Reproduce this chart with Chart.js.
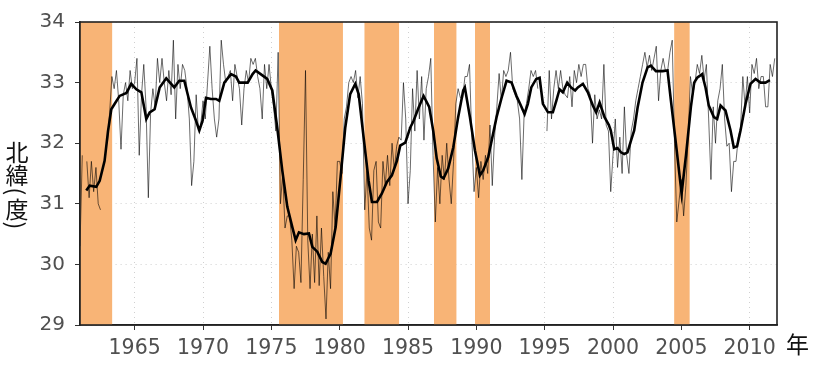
<!DOCTYPE html>
<html><head><meta charset="utf-8">
<script src="https://cdn.jsdelivr.net/npm/chart.js@4"></script>
<style>
html,body{margin:0;padding:0;background:#fff;}
#wrap{position:relative;width:830px;height:370px;}
#c{position:absolute;left:0;top:0;}
#ytitle{position:absolute;left:4px;top:140px;width:26px;font-family:"Noto Sans CJK JP";font-size:23px;color:#111;line-height:1;display:flex;flex-direction:column;align-items:center;}
#ytitle span{display:block;height:23px;line-height:23px;text-align:center;}
#ytitle span.p{height:11px;line-height:11px;transform:rotate(90deg);}
#xtitle{position:absolute;left:786px;top:332px;font-family:"Noto Sans CJK JP";font-size:23px;color:#111;line-height:1;}
</style></head>
<body><div id="wrap"><canvas id="c" width="830" height="370"></canvas>
<div id="ytitle"><span>北</span><span>緯</span><span class="p">(</span><span>度</span><span class="p">)</span></div><div id="xtitle">年</div></div>
<script>
const xTickValues = [1965,1970,1975,1980,1985,1990,1995,2000,2005,2010];
const yTickValues = [29,30,31,32,33,34];
const bandStarts = [1961.0, 1975.56, 1981.8, 1986.9, 1989.9, 2004.47];
const bandEnds   = [1963.37, 1980.24, 1984.36, 1988.56, 1991.0, 2005.62];

// thin line: every 2 months from 1961.0
const thinStart = 1961.0, thinStep = 1/6;
const thinValues = [
30.3,31.8,null,31.7,31.1,31.7,
31.2,31.6,31.0,30.9,null,null,
32.0,32.5,33.1,32.9,33.2,32.7,
31.9,32.8,33.0,32.7,33.2,32.9,
33.0,33.4,31.8,32.8,33.3,32.6,
31.1,32.5,32.9,32.6,33.4,33.0,
33.4,33.0,32.7,33.2,32.8,33.7,
32.4,33.3,32.9,33.3,33.2,32.9,
32.4,31.3,31.7,32.8,32.2,32.3,
32.7,32.4,33.0,33.6,32.9,32.4,
32.1,32.4,33.7,33.3,33.0,33.1,
33.2,32.7,33.3,33.1,32.9,32.3,
32.9,33.2,33.0,33.4,33.3,33.4,
33.1,32.9,32.4,33.3,32.9,33.3,
32.9,32.6,32.2,33.5,31.0,31.5,
30.6,30.8,30.8,30.4,29.6,30.3,
30.2,29.7,31.4,33.2,30.4,29.6,
30.5,29.7,30.8,29.65,30.6,29.8,
29.1,30.2,29.6,31.2,30.6,31.7,
31.7,31.5,32.4,32.6,33.0,33.1,
33.0,33.2,32.75,33.1,32.65,30.9,
31.55,30.6,30.4,31.55,31.7,30.7,
30.6,31.7,31.3,31.8,31.3,32.0,
31.55,31.95,32.1,32.05,33.0,32.4,
31.0,31.55,32.9,32.2,33.2,32.4,
33.1,32.05,32.9,33.1,33.4,31.8,
30.7,31.6,31.0,31.8,31.4,32.0,
31.4,31.0,31.7,32.65,32.9,32.75,
32.75,33.1,33.1,33.3,32.1,31.2,
31.6,31.1,31.7,31.4,31.8,31.5,
32.3,31.3,32.1,32.6,33.15,32.7,
33.2,33.1,33.2,33.5,32.9,32.8,
32.7,32.4,31.4,32.5,32.65,32.9,
33.2,33.1,33.2,32.9,null,null,
null,32.2,33.2,32.4,32.9,33.2,
32.9,33.2,32.9,32.8,32.75,33.1,
32.6,33.2,33.0,33.3,33.1,33.3,
33.3,32.9,32.8,32.0,32.8,32.4,
32.55,32.4,33.3,32.3,32.2,31.2,
31.8,32.4,31.6,32.1,31.5,32.6,
31.8,31.5,32.2,32.4,32.7,32.9,
33.1,33.3,33.5,33.25,33.45,33.2,
33.4,33.6,32.7,33.2,33.4,33.2,
33.2,33.5,33.7,32.0,30.7,31.05,
31.4,30.8,31.3,32.1,33.1,32.8,
33.0,33.3,33.15,33.45,33.05,33.3,
32.4,31.4,32.6,32.0,32.7,32.9,
33.3,32.4,31.95,32.0,31.2,31.7,
31.7,32.1,32.25,33.1,32.6,33.1,
32.5,33.3,33.15,33.4,32.9,33.1,
33.1,32.6,32.6,33.3,33.1,33.4
];

// smoothed line
const smoothYears = [
1961.46,1961.71,1962.19,1962.44,1962.8,1963.05,1963.29,1963.54,1963.9,1964.4,1964.75,1965.12,1965.49,1965.85,1966.1,1966.46,1966.83,1967.31,1967.9,1968.26,1968.63,1969.12,1969.49,1969.73,1969.97,1970.22,1970.58,1970.95,1971.19,1971.56,1972.05,1972.41,1972.65,1973.27,1973.63,1973.85,1974.22,1974.7,1975.07,1975.43,1975.8,1976.17,1976.53,1976.78,1977.02,1977.39,1977.75,1978.0,1978.36,1978.73,1978.97,1979.34,1979.71,1980.07,1980.41,1980.77,1981.14,1981.39,1981.75,1982.12,1982.36,1982.73,1983.09,1983.46,1983.82,1984.19,1984.43,1984.8,1985.17,1985.41,1985.78,1986.14,1986.55,1986.85,1987.1,1987.4,1987.6,1987.94,1988.31,1988.67,1989.04,1989.16,1989.53,1989.9,1990.26,1990.5,1990.87,1991.12,1991.48,1991.85,1992.21,1992.58,1992.94,1993.2,1993.53,1993.77,1994.02,1994.38,1994.63,1994.87,1995.24,1995.6,1995.85,1996.09,1996.33,1996.65,1996.94,1997.23,1997.43,1997.8,1998.16,1998.53,1998.77,1999.02,1999.38,1999.7,1999.84,2000.09,2000.33,2000.58,2000.82,2001.06,2001.31,2001.55,2001.8,2002.16,2002.53,2002.77,2003.14,2003.63,2003.99,2004.24,2004.6,2005.02,2005.34,2005.7,2005.94,2006.16,2006.52,2006.77,2007.01,2007.38,2007.62,2007.87,2008.23,2008.6,2008.84,2009.08,2009.33,2009.7,2010.06,2010.43,2010.79,2011.16,2011.48
];
const smoothValues = [
31.22,31.30,31.28,31.38,31.71,32.2,32.56,32.65,32.78,32.83,32.98,32.89,32.84,32.40,32.51,32.56,32.92,33.07,32.92,33.03,33.03,32.59,32.37,32.21,32.37,32.75,32.73,32.73,32.70,33.0,33.14,33.1,33.0,33.0,33.14,33.2,33.14,33.06,32.87,32.26,31.55,30.95,30.62,30.40,30.53,30.5,30.51,30.29,30.21,30.04,30.01,30.18,30.62,31.45,32.26,32.81,32.98,32.81,32.10,31.38,31.03,31.03,31.17,31.36,31.47,31.71,31.96,32.01,32.26,32.37,32.59,32.78,32.6,32.2,31.75,31.45,31.42,31.58,31.93,32.43,32.87,32.92,32.43,31.88,31.47,31.55,31.77,32.04,32.43,32.75,33.03,33.0,32.78,32.65,32.48,32.65,32.92,33.06,33.08,32.65,32.51,32.51,32.70,32.89,32.84,33.0,32.92,32.87,32.92,32.98,32.84,32.62,32.51,32.67,32.43,32.3,32.21,31.90,31.92,31.85,31.82,31.85,32.04,32.21,32.59,33.0,33.25,33.28,33.19,33.19,33.2,32.7,32.0,31.17,31.8,32.6,33.0,33.08,33.14,32.92,32.62,32.43,32.4,32.62,32.54,32.21,31.93,31.95,32.21,32.65,32.98,33.06,33.0,33.0,33.04
];

const bandColor = 'rgb(248,180,118)';
const datasets = [];
datasets.push({
  label:'smooth', data: smoothYears.map((x,i)=>({x, y: smoothValues[i]})),
  borderColor:'#000', borderWidth:2.6, pointRadius:0, fill:false, order:0, tension:0
});
datasets.push({
  label:'monthly', data: thinValues.map((v,i)=>({x: thinStart + i*thinStep, y: v})),
  borderColor:'rgba(0,0,0,0.58)', borderWidth:1, pointRadius:0, fill:false, spanGaps:false, order:1, tension:0
});
bandStarts.forEach((s,i)=>{
  datasets.push({
    label:'band'+i, data:[{x:s,y:34},{x:bandEnds[i],y:34}],
    borderWidth:0, borderColor:'rgba(0,0,0,0)', backgroundColor:bandColor,
    pointRadius:0, fill:'start', order:2
  });
});

const frame = {
  id:'frame',
  afterDraw(chart){
    const {ctx, chartArea:a} = chart;
    ctx.save();
    ctx.strokeStyle='#222'; ctx.lineWidth=1.6;
    ctx.strokeRect(a.left, a.top, a.right-a.left, a.bottom-a.top);
    ctx.restore();
  }
};

new Chart(document.getElementById('c'), {
  type:'line',
  data:{datasets},
  options:{
    responsive:false, animation:false, devicePixelRatio:1,
    layout:{padding:{left:0, right:53, top:21, bottom:0}},
    plugins:{legend:{display:false}, tooltip:{enabled:false}},
    scales:{
      x:{
        type:'linear', min:1961, max:2012,
        afterBuildTicks(s){ s.ticks = xTickValues.map(v=>({value:v})); },
        afterFit(s){ s.height = 45; },
        grid:{color:'#d0d0d0', lineWidth:1, tickColor:'#333', tickLength:5, drawTicks:true},
        border:{display:true, color:'#222', width:1.6, dash:[1,4]},
        ticks:{color:'#505050', font:{family:'DejaVu Sans', size:20.5}, padding:6, maxRotation:0, autoSkip:false,
          callback:(v)=>String(v)}
      },
      y:{
        type:'linear', min:29, max:34,
        afterBuildTicks(s){ s.ticks = yTickValues.map(v=>({value:v})); },
        afterFit(s){ s.width = 80; },
        grid:{color:'#d0d0d0', lineWidth:1, tickColor:'#333', tickLength:5, drawTicks:true},
        border:{display:true, color:'#222', width:1.6, dash:[1,4]},
        ticks:{color:'#505050', font:{family:'DejaVu Sans', size:20}, padding:10, callback:(v)=>String(v)}
      }
    }
  },
  plugins:[frame]
});
</script></body></html>
